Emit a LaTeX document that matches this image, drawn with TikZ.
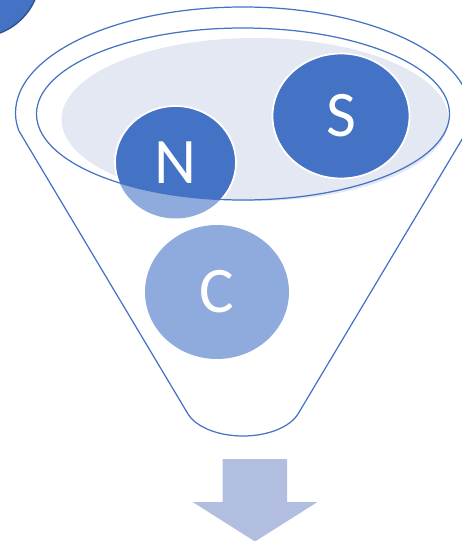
\documentclass[tikz,border=0pt]{standalone}
\usepackage{fontspec}
\setmainfont{Carlito}
\usetikzlibrary{shapes.geometric}
\definecolor{darkblue}{HTML}{4472C4}
\definecolor{midblue}{HTML}{8FAADC}
\definecolor{paleblue}{HTML}{E4E8F3}
\definecolor{arrowblue}{HTML}{B1BEE0}
\definecolor{rimblue}{HTML}{2F528F}
\tikzset{
	bubble/.style={ellipse,inner sep=0pt,text=white,font=\fontsize{37}{44}\selectfont},
	rim/.style={draw=darkblue,line width=0.7pt}
}
\begin{document}
\begin{tikzpicture}[x=0.02cm,y=-0.02cm]
		\clip (0,0) rectangle (462,541);
		%corner circle
		\draw[rimblue,line width=0.8pt,fill=darkblue] (-22,-25) circle (62);
		%funnel
		\draw[rim] (19,131) .. controls (17,126) and (15.5,120) .. (15.5,113)
		.. controls (15.5,54.5) and (117,7) .. (243,7)
		.. controls (369,7) and (470.5,54.5) .. (470.5,113)
		.. controls (470.5,120) and (469,126) .. (467,131)
		-- (298,414) .. controls (290,427) and (268,436) .. (243,436)
		.. controls (218,436) and (196,427) .. (188,414) -- cycle;
		%bubbles
		\node[bubble,fill=midblue,minimum width=2.88cm,minimum height=2.68cm] (C) at (217,292) {C};
		\node[bubble,fill=paleblue,minimum width=7.74cm,minimum height=3.26cm] (pool) at (255,119.5) {};
		\node[bubble,fill=midblue,minimum width=2.40cm,minimum height=2.24cm] (Nlow) at (175.5,162.5) {};
		\begin{scope}
		\clip (243,114) ellipse (206.5 and 86);
		\node[bubble,fill=darkblue,draw=white,line width=1pt,minimum width=2.42cm,minimum height=2.26cm] (N) at (175.5,162.5) {N};
		\end{scope}
		\node[bubble,fill=darkblue,draw=white,line width=1pt,minimum width=2.74cm,minimum height=2.50cm] (S) at (341,116) {S};
		\draw[rim] (243,114) ellipse (206.5 and 86);
		%output arrow
		\fill[arrowblue] (222.7,459) -- (287,459) -- (287,502) -- (317.5,502) -- (255,541.5) -- (192.7,502) -- (222.7,502) -- cycle;
		\end{tikzpicture}
\end{document}
